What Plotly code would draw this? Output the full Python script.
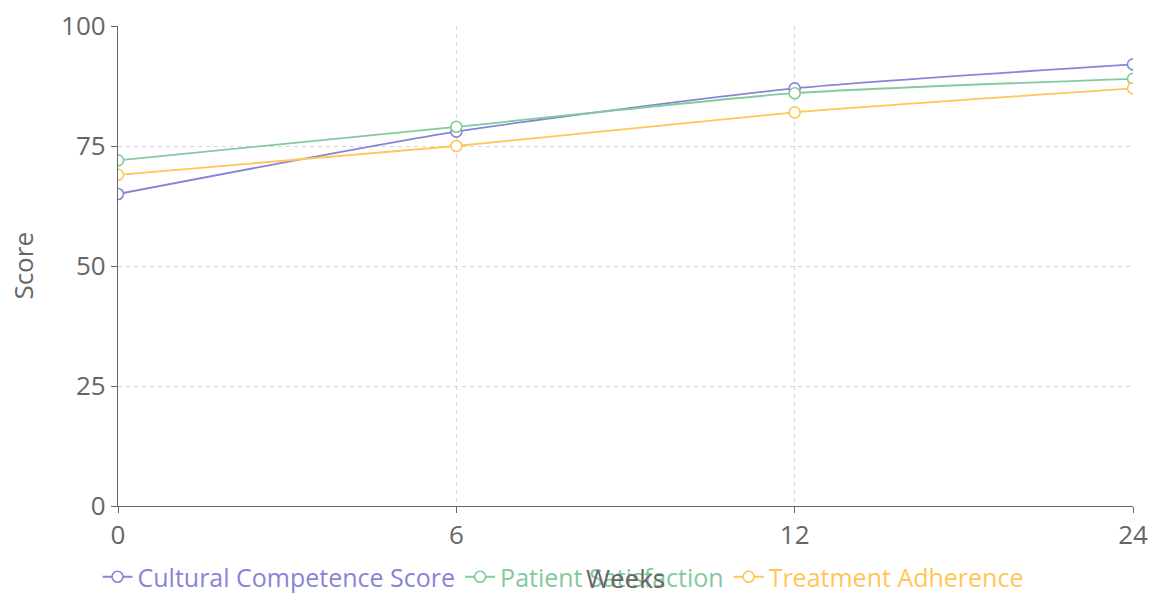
import plotly.graph_objects as go

weeks = ["0", "6", "12", "24"]
cultural_competence = [65, 78, 87, 92]
patient_satisfaction = [72, 79, 86, 89]
treatment_adherence = [69, 75, 82, 87]

series = [
    ("Cultural Competence Score", cultural_competence, "#8884d8"),
    ("Patient Satisfaction", patient_satisfaction, "#82ca9d"),
    ("Treatment Adherence", treatment_adherence, "#ffc658"),
]

FONT = "Open Sans, Noto Sans, sans-serif"
AXIS = "#666666"
SIZE = 26
W, H = 1149, 596

fig = go.Figure()
for name, values, color in series:
    fig.add_trace(go.Scatter(
        x=weeks, y=values,
        name=f"<span style='color:{color}'>{name}</span>",
        mode="lines+markers",
        line=dict(color=color, width=1.8, shape="spline", smoothing=0.6),
        marker=dict(symbol="circle", size=11, color="white",
                    line=dict(color=color, width=1.6)),
    ))

# axis titles placed relative to the plot area
fig.add_annotation(text="Score", xref="paper", yref="paper", x=-0.094, y=0.5,
                   textangle=-90, showarrow=False, xanchor="center", yanchor="middle",
                   font=dict(size=SIZE, color=AXIS))
fig.add_annotation(text="Weeks", xref="paper", yref="paper", x=0.5, y=-0.15,
                   showarrow=False, xanchor="center", yanchor="middle",
                   font=dict(size=SIZE, color=AXIS))

fig.update_layout(
    width=W, height=H,
    margin=dict(l=118, r=16, t=26, b=90, autoexpand=False),
    paper_bgcolor="white", plot_bgcolor="white",
    font=dict(family=FONT, size=SIZE, color=AXIS),
    showlegend=True,
    legend=dict(orientation="h", xref="container", x=0.49, xanchor="center",
                y=-0.1, yanchor="top", font=dict(size=25),
                bgcolor="rgba(0,0,0,0)", itemwidth=30, borderwidth=0),
    xaxis=dict(
        type="category", range=[0, 3],
        showline=True, linecolor=AXIS, linewidth=1.2,
        ticks="outside", ticklen=6, tickcolor=AXIS,
        showgrid=True, gridcolor="#d6d6d6", griddash="4px,4px", gridwidth=1,
        zeroline=False,
        tickfont=dict(size=SIZE, color=AXIS),
    ),
    yaxis=dict(
        range=[0, 100], tickvals=[0, 25, 50, 75, 100],
        showline=True, linecolor=AXIS, linewidth=1.2,
        ticks="outside", ticklen=6, tickcolor=AXIS,
        showgrid=True, gridcolor="#d6d6d6", griddash="4px,4px", gridwidth=1,
        zeroline=False,
        tickfont=dict(size=SIZE, color=AXIS),
    ),
)

fig.write_html("out.html")
